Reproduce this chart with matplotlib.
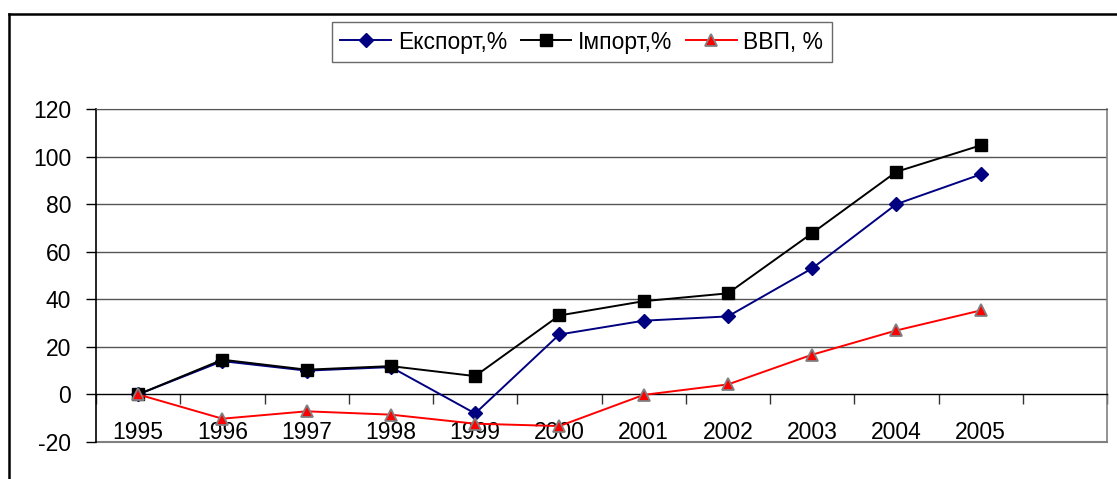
import matplotlib
matplotlib.use("Agg")
import matplotlib.pyplot as plt
from matplotlib.lines import Line2D

plt.rcParams['font.family'] = ['Liberation Sans', 'DejaVu Sans']
plt.rcParams['axes.unicode_minus'] = False

years = ['1995', '1996', '1997', '1998', '1999', '2000', '2001', '2002', '2003', '2004', '2005']
export_pct = [0, 14, 10, 11.5, -8, 25.2, 31, 32.8, 53, 80, 92.5]
import_pct = [0, 14.6, 10.4, 11.9, 7.7, 33.2, 39.2, 42.5, 67.8, 93.6, 104.7]
gdp_pct = [0, -10.2, -7.1, -8.5, -12.3, -13.3, -0.2, 4.2, 16.7, 26.9, 35.3]
yticks = [-20, 0, 20, 40, 60, 80, 100, 120]
labels = ['Експорт,%', 'Імпорт,%', 'ВВП, %']

FS = 16.5
fig = plt.figure(figsize=(11.17, 4.79), dpi=100)
ax = fig.add_axes([96/1117, 1-442/479, (1107-96)/1117, (442-109)/479])

x = list(range(len(years)))
ax.plot(x, export_pct, color='#000080', lw=1.4, marker='D', ms=7.5,
        mfc='#000080', mec='#000080', label=labels[0], zorder=3)
ax.plot(x, import_pct, color='black', lw=1.4, marker='s', ms=8.5,
        mfc='black', mec='black', label=labels[1], zorder=4)
ax.plot(x, gdp_pct, color='#ff0000', lw=1.4, marker='^', ms=9,
        mfc='#ff0000', mec='#808080', mew=1.3, label=labels[2], zorder=5)

ax.set_xlim(-0.5, len(years) + 0.5)
ax.set_ylim(-20, 120)
ax.set_yticks(yticks)
ax.set_yticklabels([str(v) for v in yticks], fontsize=FS)
ax.tick_params(axis='y', direction='out', length=7, width=1, color='black', pad=11)

# gridlines
for v in yticks[2:]:
    ax.axhline(v, color='#555555', lw=1, zorder=1)

# x axis at zero
ax.spines['bottom'].set_position(('data', 0))
ax.spines['bottom'].set_color('black')
ax.spines['bottom'].set_linewidth(1)
ax.spines['left'].set_color('black')
ax.spines['left'].set_linewidth(1.2)
ax.spines['top'].set_color('#555555')
ax.spines['right'].set_color('#808080')
ax.spines['right'].set_linewidth(1.2)
ax.axhline(-20, color='#808080', lw=1.5, clip_on=False, zorder=1)

bounds = [i + 0.5 for i in range(-1, len(years) + 1)]
ax.set_xticks(bounds)
ax.set_xticklabels([])
ax.tick_params(axis='x', direction='out', length=7, width=1, color='#333333')

for i, yl in enumerate(years):
    ax.text(i, -18.7, yl, ha='center', va='baseline', fontsize=FS)

leg = fig.legend(loc='center', bbox_to_anchor=(582/1117, 1-42/479), ncol=3,
                 fontsize=FS, frameon=True, fancybox=False, edgecolor='#444444',
                 handlelength=2.2, handletextpad=0.3, columnspacing=0.6,
                 borderpad=0.35, borderaxespad=0)
leg.get_frame().set_linewidth(1)

# outer chart border (partially visible)
fig.add_artist(Line2D([9/1117, 9/1117], [0, 1-14/479], color='black', lw=1.8,
                      transform=fig.transFigure))
fig.add_artist(Line2D([9/1117, 1], [1-14/479, 1-14/479], color='black', lw=1.8,
                      transform=fig.transFigure))

fig.savefig('out.png', dpi=100)
